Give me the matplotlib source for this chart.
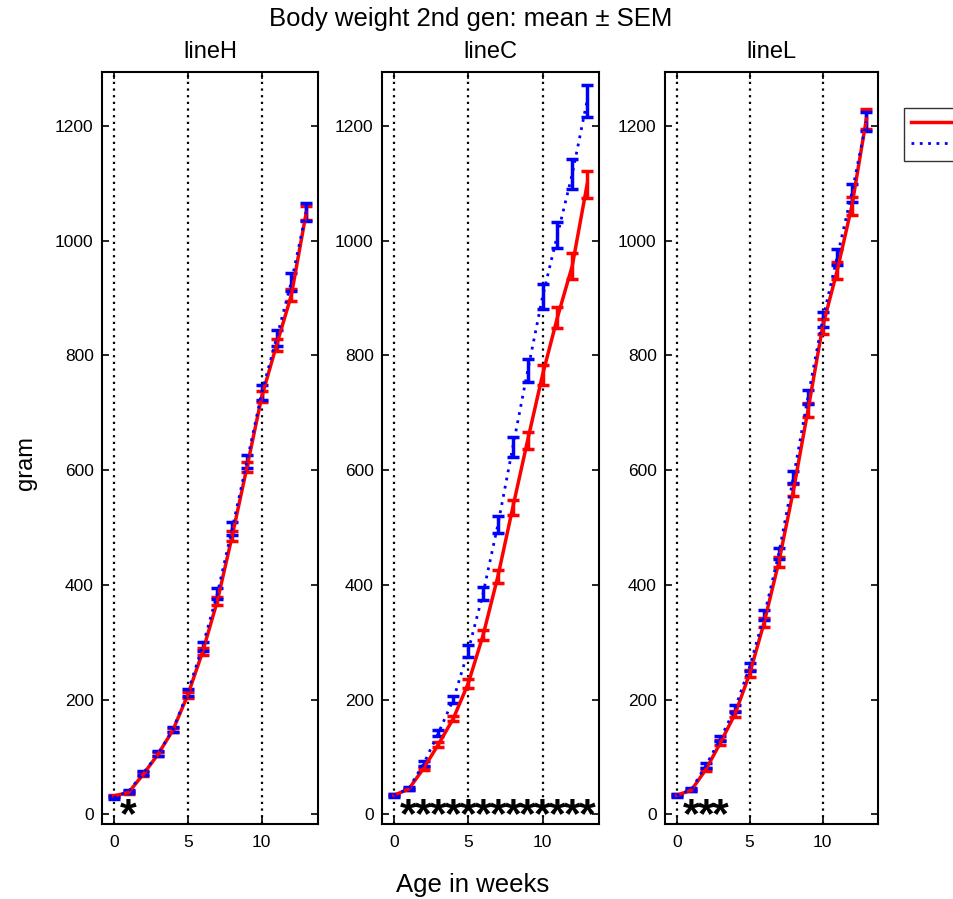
import matplotlib
matplotlib.use("Agg")
import matplotlib.pyplot as plt
from matplotlib.lines import Line2D

plt.rcParams["font.family"] = ["Liberation Sans", "DejaVu Sans"]

weeks = list(range(14))
lines = ["lineH", "lineC", "lineL"]
group_names = ["Ad lib", "Restricted"]

# mean and SEM per line, red group (A) and blue group (B)
mean_a = {
    "lineH": [32, 38, 70, 105, 147, 208, 283, 372, 485, 605, 728, 818, 905, 1048],
    "lineC": [33, 44, 80, 122, 167, 228, 312, 415, 535, 652, 766, 866, 956, 1098],
    "lineL": [33, 42, 78, 125, 175, 245, 335, 440, 565, 705, 850, 948, 1060, 1212],
}
sem_a = {
    "lineH": [2, 2, 3, 3, 4, 5, 6, 7, 8, 9, 10, 10, 11, 12],
    "lineC": [2, 2, 3, 4, 5, 7, 9, 11, 13, 15, 17, 19, 22, 24],
    "lineL": [2, 2, 3, 4, 5, 6, 8, 9, 10, 12, 13, 14, 16, 17],
}
mean_b = {
    "lineH": [29, 40, 72, 106, 148, 213, 293, 385, 498, 615, 735, 830, 928, 1050],
    "lineC": [33, 45, 88, 142, 200, 285, 385, 505, 640, 773, 902, 1010, 1116, 1244],
    "lineL": [33, 43, 85, 132, 185, 257, 347, 455, 588, 728, 862, 972, 1083, 1208],
}
sem_b = {
    "lineH": [3, 3, 3, 4, 5, 6, 8, 9, 11, 12, 13, 14, 15, 16],
    "lineC": [3, 3, 4, 5, 6, 10, 12, 15, 18, 20, 22, 22, 26, 28],
    "lineL": [3, 3, 4, 5, 6, 7, 9, 10, 11, 12, 13, 14, 15, 16],
}
# weeks with a significant difference
signif = {
    "lineH": [1],
    "lineC": list(range(1, 14)),
    "lineL": [1, 2, 3],
}

fig = plt.figure(figsize=(9.54, 8.99), dpi=100)
lefts = [0.1069, 0.4004, 0.6971]
widths = [0.2264, 0.2275, 0.2233]

for i, name in enumerate(lines):
    ax = fig.add_axes([lefts[i], 0.0834, widths[i], 0.8365])
    for xv in [0, 5, 10]:
        ax.axvline(xv, color="black", linestyle=(0, (1, 2)), linewidth=1.6, zorder=0)
    ax.errorbar(weeks, mean_a[name], yerr=sem_a[name], color="#ff0000",
                linewidth=2.5, elinewidth=2.5, capsize=4, capthick=2.5)
    ax.errorbar(weeks, mean_b[name], yerr=sem_b[name], color="#0000ff",
                linewidth=2, linestyle=(0, (1, 2)), elinewidth=2.5,
                capsize=4, capthick=2.5)
    for w in signif[name]:
        ax.text(w, -4, "*", ha="center", va="center", fontsize=31,
                fontweight="bold", color="black")
    ax.set_xlim(-0.8, 13.8)
    ax.set_ylim(-17, 1294)
    ax.set_xticks([0, 5, 10])
    ax.set_yticks(range(0, 1201, 200))
    ax.tick_params(direction="in", top=True, right=True, length=5,
                   width=1.2, labelsize=12.5)
    ax.tick_params(axis="y", pad=6)
    ax.tick_params(axis="x", pad=8)
    for sp in ax.spines.values():
        sp.set_linewidth(1.5)
    ax.set_title(name, fontsize=17, pad=10)

handles = [Line2D([], [], color="#ff0000", linewidth=2.5),
           Line2D([], [], color="#0000ff", linewidth=2, linestyle=(0, (1, 2)))]
fig.legend(handles, group_names, loc="upper left",
           bbox_to_anchor=(0.9476, 0.8799), fontsize=13, frameon=True,
           fancybox=False, edgecolor="black", handlelength=2.4,
           handletextpad=0.3, labelspacing=0.25, borderaxespad=0)

fig.text(0.493, 0.979, "Body weight 2nd gen: mean \u00b1 SEM", ha="center",
         va="center", fontsize=18.5)
fig.text(0.027, 0.485, "gram", rotation=90, ha="center", va="center", fontsize=17)
fig.text(0.495, 0.016, "Age in weeks", ha="center", va="center", fontsize=18.5)

fig.savefig("out.png", dpi=100)
